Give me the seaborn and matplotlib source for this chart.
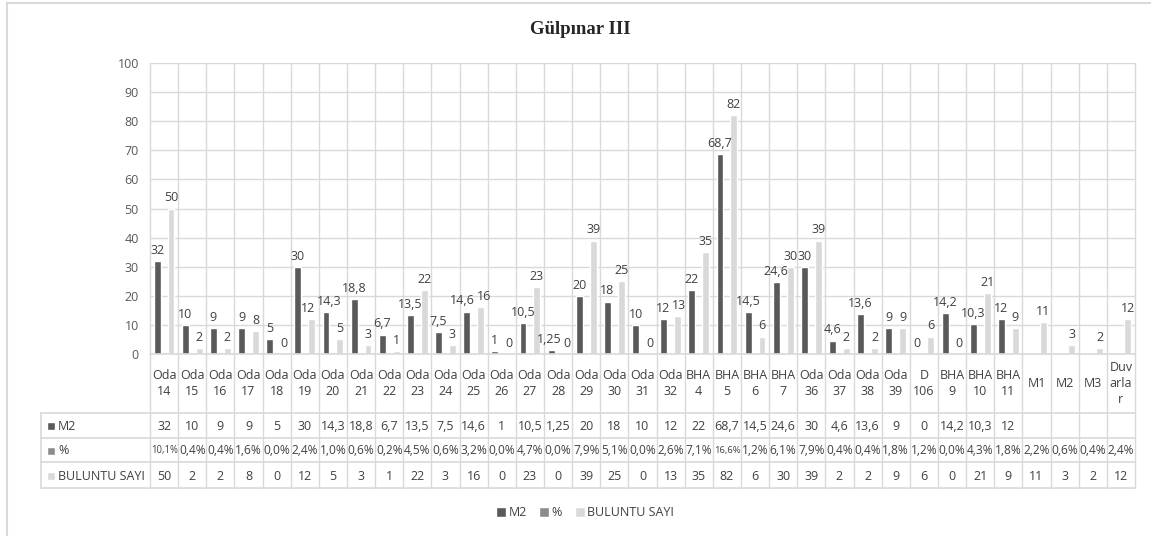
import matplotlib.pyplot as plt
import seaborn as sns
import numpy as np
import pandas as pd
from matplotlib.lines import Line2D

# Datos
kategoriler = ['Oda\n14', 'Oda\n15', 'Oda\n16', 'Oda\n17', 'Oda\n18', 'Oda\n19', 'Oda\n20',
               'Oda\n21', 'Oda\n22', 'Oda\n23', 'Oda\n24', 'Oda\n25', 'Oda\n26', 'Oda\n27',
               'Oda\n28', 'Oda\n29', 'Oda\n30', 'Oda\n31', 'Oda\n32', 'BHA\n4', 'BHA\n5',
               'BHA\n6', 'BHA\n7', 'Oda\n36', 'Oda\n37', 'Oda\n38', 'Oda\n39', 'D\n106',
               'BHA\n9', 'BHA\n10', 'BHA\n11', 'M1', 'M2', 'M3', 'Duv\narla\nr']
m2 = [32, 10, 9, 9, 5, 30, 14.3, 18.8, 6.7, 13.5, 7.5, 14.6, 1, 10.5, 1.25, 20, 18, 10, 12,
      22, 68.7, 14.5, 24.6, 30, 4.6, 13.6, 9, 0, 14.2, 10.3, 12, None, None, None, None]
yuzde = [10.1, 0.4, 0.4, 1.6, 0.0, 2.4, 1.0, 0.6, 0.2, 4.5, 0.6, 3.2, 0.0, 4.7, 0.0, 7.9,
         5.1, 0.0, 2.6, 7.1, 16.6, 1.2, 6.1, 7.9, 0.4, 0.4, 1.8, 1.2, 0.0, 4.3, 1.8, 2.2,
         0.6, 0.4, 2.4]
buluntu = [50, 2, 2, 8, 0, 12, 5, 3, 1, 22, 3, 16, 0, 23, 0, 39, 25, 0, 13, 35, 82, 6, 30,
           39, 2, 2, 9, 6, 0, 21, 9, 11, 3, 2, 12]
seriler = ['M2', '%', 'BULUNTU SAYI']
renkler = ['#595959', '#8c8c8c', '#d9d9d9']

# % serisi grafikte oran olarak (0-1) cizilmis
df = pd.concat([
    pd.DataFrame({'kat': kategoriler, 'deger': m2, 'seri': 'M2'}),
    pd.DataFrame({'kat': kategoriler, 'deger': np.array(yuzde) / 100, 'seri': '%'}),
    pd.DataFrame({'kat': kategoriler, 'deger': buluntu, 'seri': 'BULUNTU SAYI'}),
]).dropna()

sns.set_style('white')
plt.rcParams['font.family'] = ['Open Sans', 'DejaVu Sans']
fs = 9

W, H = 1151, 536
fig = plt.figure(figsize=(W / 100, H / 100), dpi=100)
L, R, T, B = 150, 1135, 63, 354
ax = fig.add_axes([L / W, 1 - B / H, (R - L) / W, (B - T) / H])

sns.barplot(data=df, x='kat', y='deger', hue='seri', order=kategoriler, hue_order=seriler,
            palette=renkler, width=0.74, saturation=1, ax=ax, legend=True)

# Veri etiketleri
def fmt(v):
    return f'{v:g}'.replace('.', ',')

etiketler = []
for cont, seri in zip(ax.containers, seriler):
    if seri == '%':
        continue
    etiketler += ax.bar_label(cont, labels=[fmt(v) for v in cont.datavalues], padding=3,
                              fontsize=fs, color='#404040')

ax.set_ylim(0, 100)
ax.set_yticks(range(0, 101, 10))
ax.set_xlim(-0.5, len(kategoriler) - 0.5)
ax.set_xticks([])
ax.set_xlabel('')
ax.set_ylabel('')
ax.tick_params(axis='y', labelsize=fs, labelcolor='#595959', length=0, pad=8)
ax.grid(axis='y', color='#d9d9d9', lw=1)
ax.set_axisbelow(True)
for s in ax.spines.values():
    s.set_visible(False)

# Veri tablosu
gc = '#d9d9d9'
tr = ax.get_xaxis_transform()
def ay(py):
    return (B - py) / (B - T)

satir = [413, 438, 462, 488]
for i in range(len(kategoriler) + 1):
    ax.plot([i - 0.5, i - 0.5], [1, ay(488)], color=gc, lw=1, transform=tr, clip_on=False, zorder=0)
ax.plot([-0.5, len(kategoriler) - 0.5], [0, 0], color=gc, lw=1.2, transform=tr, clip_on=False)
for py in satir:
    fig.add_artist(Line2D([41 / W, R / W], [1 - py / H, 1 - py / H], color=gc, lw=1.2))
fig.add_artist(Line2D([41 / W, 41 / W], [1 - 413 / H, 1 - 488 / H], color=gc, lw=1.2))

yuzde_metin = []
for i, k in enumerate(kategoriler):
    ax.text(i, ay(383.5), k, ha='center', va='center', fontsize=fs, color='#404040',
            transform=tr, clip_on=False, linespacing=1.3)
    if m2[i] is not None:
        ax.text(i, ay(426), fmt(m2[i]), ha='center', va='center', fontsize=fs,
                color='#404040', transform=tr, clip_on=False)
    yuzde_metin.append(ax.text(i, ay(451), f'{yuzde[i]:.1f}%'.replace('.', ','),
                               ha='center', va='center', fontsize=fs, color='#404040',
                               transform=tr, clip_on=False))
    ax.text(i, ay(476), fmt(buluntu[i]), ha='center', va='center', fontsize=fs,
            color='#404040', transform=tr, clip_on=False)

for j, (py, seri) in enumerate(zip([426, 451, 476], seriler)):
    fig.patches.append(plt.Rectangle((47 / W, 1 - (py + 4) / H), 8 / W, 8 / H,
                                     facecolor=renkler[j], transform=fig.transFigure))
    fig.text(58 / W, 1 - py / H, seri, ha='left', va='center', fontsize=fs, color='#404040')

# Lejant
sns.move_legend(ax, 'center', bbox_to_anchor=(585 / W, 1 - 513 / H),
                bbox_transform=fig.transFigure, ncol=3, frameon=False, title=None,
                fontsize=fs, handlelength=0.8, handleheight=0.8, handletextpad=0.2,
                columnspacing=1.0, labelcolor='#404040')

fig.text(580 / W, 1 - 30 / H, 'Gülpınar III', ha='center', va='center', fontsize=13.5,
         fontweight='bold', family='Liberation Serif')

# Cerceve
fig.add_artist(Line2D([7 / W, 1], [1 - 3 / H, 1 - 3 / H], color=gc, lw=1.5))
fig.add_artist(Line2D([7 / W, 7 / W], [0, 1 - 3 / H], color=gc, lw=1.5))

fig.canvas.draw()
rnd = fig.canvas.get_renderer()

# hucreye sigmayan yuzde metinlerini kucult
hucre_gen = (R - L) / len(kategoriler) - 1.5
for t in yuzde_metin:
    w = t.get_window_extent(rnd).width
    if w > hucre_gen:
        t.set_fontsize(fs * hucre_gen / w)

# Ust uste binen etiketleri ayir (Excel gibi)
pt = 72 / fig.dpi
for _ in range(3):
    bbs = [(a, a.get_window_extent(rnd)) for a in etiketler]
    bbs.sort(key=lambda p: p[1].x0)
    degisti = False
    for (a1, b1), (a2, b2) in zip(bbs, bbs[1:]):
        ox = min(b1.x1, b2.x1) - max(b1.x0, b2.x0)
        oy = min(b1.y1, b2.y1) - max(b1.y0, b2.y0)
        if ox > 0 and oy > 0:
            degisti = True
            if oy < ox:
                ust = a1 if b1.y0 >= b2.y0 else a2
                x, y = ust.xyann
                ust.xyann = (x, y + (oy + 1) * pt)
            else:
                x, y = a1.xyann
                a1.xyann = (x - (ox / 2 + 1) * pt, y)
                x, y = a2.xyann
                a2.xyann = (x + (ox / 2 + 1) * pt, y)
    if not degisti:
        break
    fig.canvas.draw()

fig.savefig('out.png', dpi=100)
